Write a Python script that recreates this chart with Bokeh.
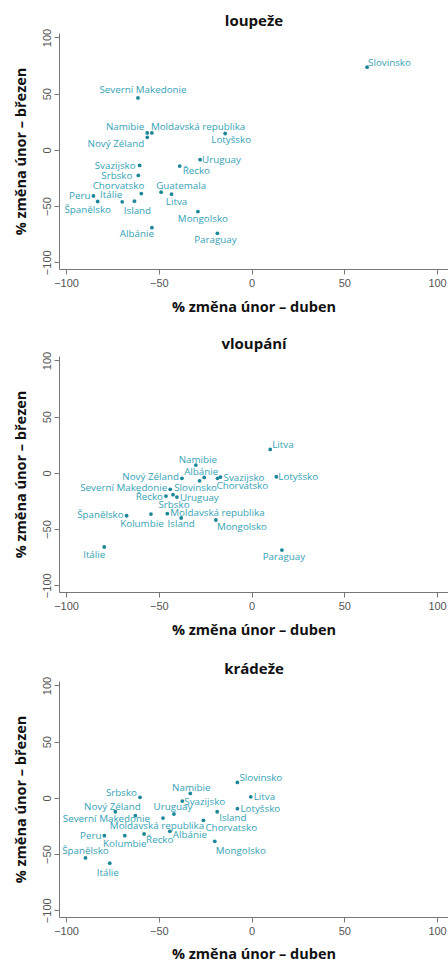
from bokeh.plotting import figure
from bokeh.layouts import column
from bokeh.models import ColumnDataSource, FixedTicker, Range1d
from bokeh.core.properties import value, field
from bokeh.embed import file_html
from bokeh.resources import INLINE

# ---------------- data ----------------
titles = ["loupeže", "vloupání", "krádeže"]
x_label = "% změna únor – duben"
y_label = "% změna únor – březen"
tick_values = [-100, -50, 0, 50, 100]

# loupeže
rob_countries = ["Slovinsko", "Severní Makedonie", "Namibie", "Moldavská republika", "Nový Zéland",
                 "Lotyšsko", "Uruguay", "Řecko", "Svazijsko", "Srbsko", "Chorvatsko", "Guatemala",
                 "Litva", "Peru", "Španělsko", "Itálie", "Island", "Mongolsko", "Albánie", "Paraguay"]
rob_x = [62, -61.5, -56.5, -54, -56.5, -14.5, -28, -39, -60.6, -61.3, -59.7, -49, -43.4, -85.5,
         -83.2, -70, -63.4, -29.2, -54, -18.7]
rob_y = [74, 46.7, 15.5, 15.5, 11.6, 15, -8.3, -14, -13.4, -22.3, -38.4, -37.2, -39, -40.5,
         -45.5, -45.8, -45.2, -54.5, -68.8, -73.8]

# vloupání
bur_countries = ["Litva", "Namibie", "Albánie", "Nový Zéland", "Svazijsko", "Chorvatsko", "Slovinsko",
                 "Lotyšsko", "Severní Makedonie", "Řecko", "Srbsko", "Uruguay", "Moldavská republika",
                 "Kolumbie", "Španělsko", "Island", "Mongolsko", "Itálie", "Paraguay"]
bur_x = [9.8, -30.3, -25.8, -37.8, -17, -18.6, -28.3, 13.1, -44.1, -46.4, -42.6, -40.5, -45.7,
         -54.5, -67.6, -38.2, -19.5, -79.7, 16.1]
bur_y = [21.3, 7.4, -3.6, -4.4, -3.3, -4.4, -6.6, -3, -14.2, -20.2, -19, -21.1, -35.9,
         -36.2, -37.7, -39.7, -41.5, -65.5, -68.2]

# krádeže
thf_countries = ["Slovinsko", "Namibie", "Srbsko", "Litva", "Svazijsko", "Nový Zéland", "Uruguay",
                 "Lotyšsko", "Island", "Severní Makedonie", "Moldavská republika", "Chorvatsko",
                 "Albánie", "Řecko", "Kolumbie", "Peru", "Mongolsko", "Španělsko", "Itálie"]
thf_x = [-7.9, -33.3, -60.4, -0.7, -37.6, -73.7, -42.1, -7.9, -18.8, -62.9, -48, -26.2,
         -44.3, -58.2, -68.6, -79.6, -20.1, -89.8, -76.7]
thf_y = [14.2, 4.4, 0.9, 1.4, -2.4, -11.9, -13.9, -9.2, -11.9, -15.4, -17.5, -19.5,
         -29.3, -31.7, -33.2, -33.2, -38.2, -53, -57.7]

# ---------------- label placement (layout only: pixel nudges) ----------------
rob_lab = [("left", 1, -5), ("center", 5, -8), ("right", -3, -6), ("left", -1, -6), ("right", -3, 6),
           ("center", 6, 6), ("left", 2, 0), ("left", 3, 4), ("right", -4, 0), ("right", -6, 0),
           ("right", 3, -8), ("left", -5, -7), ("center", 5, 7), ("right", -3, 0), ("center", -10, 8),
           ("right", 0, -7), ("center", 3, 9), ("center", 5, 7), ("center", -15, 6), ("center", -2, 6)]
bur_lab = [("left", 2, -5), ("center", 2, -6), ("center", -3, -6), ("right", -3, -2), ("left", 3, 0),
           ("left", -1, 7), ("center", -4, 7), ("left", 2, 0), ("right", -3, -2), ("right", -3, 0),
           ("center", 1, 10), ("left", 3, 0), ("left", 3, -1), ("center", -9, 9), ("right", -3, -1),
           ("center", 0, 6), ("left", 1, 6), ("center", -10, 8), ("center", 2, 6)]
thf_lab = [("left", 2, -5), ("center", 1, -6), ("right", -3, -5), ("left", 3, 0), ("left", 2, 0),
           ("center", -3, -5), ("center", -1, -7), ("left", 3, 0), ("left", 2, 6), ("center", -29, 3),
           ("center", -6, 7), ("left", 2, 7), ("left", 3, 3), ("left", 2, 5), ("center", 0, 8),
           ("right", -3, 0), ("left", 1, 9), ("center", 0, -7), ("center", -2, 9)]

LABEL_COLOR = "#35a2b5"
DOT_COLOR = "#1c8798"
AXIS_COLOR = "#777777"


def make_panel(title, names, xs, ys, labs, height, top, bottom, xlab_standoff):
    p = figure(width=448, height=height, output_backend="svg", toolbar_location=None,
               x_range=Range1d(-103.8, 105.9), y_range=Range1d(-106, 104),
               min_border_left=59, min_border_right=0, min_border_top=top,
               min_border_bottom=bottom, title=title)
    p.title.align = "center"
    p.title.text_font = "Open Sans"
    p.title.text_font_style = "bold"
    p.title.text_font_size = "15px"
    p.title.text_color = "#111111"
    p.title.standoff = 7
    p.grid.visible = False
    p.outline_line_color = None
    p.background_fill_color = "white"
    p.border_fill_color = "white"

    for ax in (p.xaxis[0], p.yaxis[0]):
        ax.ticker = FixedTicker(ticks=tick_values)
        ax.axis_line_color = AXIS_COLOR
        ax.major_tick_line_color = AXIS_COLOR
        ax.minor_tick_line_color = None
        ax.major_tick_out = 5
        ax.major_tick_in = 0
        ax.major_label_text_color = "#555555"
        ax.major_label_text_font = "Liberation Sans"
        ax.major_label_text_font_size = "11px"
        ax.axis_label_text_font = "Open Sans"
        ax.axis_label_text_font_style = "bold"
        ax.axis_label_text_font_size = "14.5px"
        ax.axis_label_text_color = "#111111"
    p.xaxis.axis_label = x_label
    p.yaxis.axis_label = y_label
    p.xaxis.major_label_standoff = 4
    p.yaxis.major_label_standoff = 3
    p.xaxis.axis_label_standoff = xlab_standoff
    p.yaxis.axis_label_standoff = 11
    p.yaxis.major_label_orientation = "vertical"

    src = ColumnDataSource(dict(
        x=xs, y=ys, name=names,
        align=[a for a, _, _ in labs],
        dx=[d for _, d, _ in labs],
        dy=[d for _, _, d in labs],
    ))
    p.scatter(x="x", y="y", source=src, size=3.8, color=DOT_COLOR, line_color=None)
    p.text(x="x", y="y", text="name", source=src,
           x_offset=field("dx"), y_offset=field("dy"),
           text_align=field("align"), text_baseline="middle",
           text_font=value("Open Sans"), text_font_size="9.8px",
           text_color=LABEL_COLOR)
    return p


p1 = make_panel(titles[0], rob_countries, rob_x, rob_y, rob_lab, 323, 33, 54, 7)
p2 = make_panel(titles[1], bur_countries, bur_x, bur_y, bur_lab, 325, 33, 56, 7)
p3 = make_panel(titles[2], thf_countries, thf_x, thf_y, thf_lab, 317, 33, 48, 6)

layout = column(p1, p2, p3, spacing=0)
open("out.html", "w").write(file_html(layout, INLINE))
